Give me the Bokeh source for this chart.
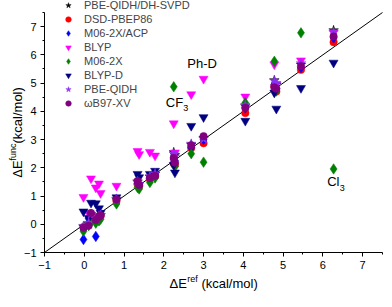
import math
from bokeh.plotting import figure
from bokeh.models import Range1d, SingleIntervalTicker, Legend, LegendItem, Label
from bokeh.embed import file_html
from bokeh.resources import INLINE

# axis limits (kcal/mol)
axis_min, axis_max = -1, 7.5

# reference energies (kcal/mol) of the systems
e_ref = [-0.02, 0.11, 0.17, 0.29, 0.37, 0.41, 0.81, 1.34, 1.38, 1.65, 1.78,
         2.25, 2.28, 2.69, 3.00, 4.05, 4.78, 4.83, 5.45, 6.27]

# functional energies (kcal/mol)
pbe_qidh_dhsvpd = [-0.08, 0.02, 0.35, 0.18, 0.30, 0.32, 0.88, 1.50, 1.42, 1.68, 1.78,
                   2.55, 2.45, 2.82, 3.05, 4.18, 5.10, 4.95, 5.65, 6.87]
dsd_pbep86 = [-0.10, 0.00, 0.32, 0.15, 0.26, 0.28, 0.82, 1.42, 1.35, 1.60, 1.70,
              2.15, 2.10, 2.70, 2.87, 3.94, 4.90, 4.70, 5.47, 6.45]
m062x_acp = [-0.54, 0.20, 0.15, -0.43, 0.25, 0.30, 0.88, 1.45, 1.38, 1.62, 1.75,
             2.30, 2.25, 2.72, 3.00, 4.12, 4.95, 4.80, 5.55, 6.60]
blyp = [0.96, 0.40, 1.62, 1.30, 1.44, 1.10, 1.36, 2.59, 2.48, 2.56, 2.43,
        3.57, 2.54, 4.60, 5.15, 4.52, 5.66, 4.97, 5.80, 6.80]
m062x = [-0.25, -0.05, 0.08, 0.04, 0.12, 0.18, 0.72, 1.30, 1.25, 1.48, 1.64,
         4.87, 2.05, 2.50, 2.20, 4.30, 5.77, 4.72, 6.78, 1.96]
blyp_d = [0.45, 0.22, 0.76, 0.74, 0.56, 0.40, 0.95, 1.78, 1.66, 1.78, 1.89,
          2.10, 1.83, 3.48, 3.79, 3.66, 4.66, 4.09, 4.82, 5.72]
pbe_qidh = [-0.06, 0.05, 0.36, 0.20, 0.31, 0.33, 0.90, 1.52, 1.43, 1.70, 1.80,
            2.50, 2.40, 2.85, 3.02, 4.22, 5.08, 4.98, 5.70, 6.80]
wb97xv = [-0.12, -0.05, 0.40, 0.15, 0.27, 0.32, 0.88, 1.53, 1.39, 1.64, 1.72,
          2.35, 2.18, 2.80, 3.12, 4.13, 4.85, 4.80, 5.60, 6.65]

labels = ["PBE-QIDH/DH-SVPD", "DSD-PBEP86", "M06-2X/ACP", "BLYP", "M06-2X",
          "BLYP-D", "PBE-QIDH", "\u03c9B97-XV"]
series_values = [pbe_qidh_dhsvpd, dsd_pbep86, m062x_acp, blyp, m062x, blyp_d,
                 pbe_qidh, wb97xv]
colors = ["#000000", "#FF0000", "#0000FF", "#FF00FF", "#008000", "#000080",
          "#8833EE", "#800080"]
markers = ["star", "circle", "diamond", "inverted_triangle", "diamond",
           "inverted_triangle", "star", "circle"]
sizes = [10, 7.5, 10.5, 9, 10.5, 9, 10, 7.5]

FONT = "Liberation Sans"
W, H = 384, 291
# pixel placement of the axis box inside the canvas (layout only)
PX_L, PX_R, PX_T, PX_B = 44, 382, 12, 252
sx = (PX_R - PX_L) / (axis_max - axis_min)
sy = (PX_B - PX_T) / (axis_max - axis_min)
x_range = Range1d(axis_min - PX_L / sx, axis_min + (W - PX_L) / sx)
y_range = Range1d(axis_min - (H - PX_B) / sy, axis_min + PX_B / sy)

p = figure(width=W, height=H, output_backend="svg", toolbar_location=None,
           x_range=x_range, y_range=y_range,
           min_border_left=0, min_border_right=0, min_border_top=0,
           min_border_bottom=0)
p.outline_line_color = None
p.grid.visible = False
p.background_fill_color = "white"

for ax in (p.xaxis[0], p.yaxis[0]):
    ax.fixed_location = axis_min
    ax.bounds = (axis_min, axis_max)
    ax.ticker = SingleIntervalTicker(interval=1, num_minor_ticks=2)
    ax.axis_line_color = "black"
    ax.axis_line_width = 1
    ax.major_tick_in = 0
    ax.major_tick_out = 4
    ax.minor_tick_in = 0
    ax.minor_tick_out = 2
    ax.major_tick_line_color = "black"
    ax.minor_tick_line_color = "black"
    ax.major_label_text_font = FONT
    ax.major_label_text_font_size = "11px"
    ax.major_label_text_color = "black"
    ax.major_label_standoff = 4
    ax.axis_label = None

# identity line
p.line([axis_min, axis_max], [axis_min, axis_max], line_color="black", line_width=1)

items = []
for lab_, vals, col, mk, sz in zip(labels, series_values, colors, markers, sizes):
    r = p.scatter(e_ref, vals, marker=mk, size=sz,
                  fill_color=col, line_color=col, line_width=0.5)
    items.append(LegendItem(label=lab_, renderers=[r]))

legend = Legend(items=items, location=(60, H - 110), padding=0, spacing=0, margin=0,
                glyph_width=16, glyph_height=14, label_height=14, label_standoff=8,
                border_line_color=None, background_fill_alpha=0,
                label_text_font=FONT, label_text_font_size="11px")
p.add_layout(legend)


def lab(x, y, text, size="13px", units="data", angle=0, xo=0, yo=0,
        baseline="alphabetic"):
    p.add_layout(Label(x=x, y=y, x_units=units, y_units=units, text=text,
                       angle=angle, x_offset=xo, y_offset=yo,
                       text_font=FONT, text_font_size=size, text_color="black",
                       text_align="left", text_baseline=baseline))


def slab(px, py, text, size="13px", angle=0):
    # px, py measured from the canvas top-left
    lab(px, H - py, text, size=size, units="screen", angle=angle)


# annotations
lab(2.59, 5.68, "Ph-D", baseline="middle")
lab(2.05, 4.32, "CF", baseline="middle")
lab(2.05, 4.32, "3", size="9px", xo=17.5, yo=-6, baseline="middle")
lab(6.11, 1.50, "Cl", baseline="middle")
lab(6.11, 1.50, "3", size="9px", xo=12.5, yo=-6, baseline="middle")

# x axis label
slab(169, 283, "\u0394E")
slab(186.8, 278, "ref", size="9px")
slab(200.9, 283, "(kcal/mol)")

# y axis label (rotated)
slab(17, 177.3, "\u0394E", angle=math.pi / 2)
slab(12, 160, "func", size="9px", angle=math.pi / 2)
slab(17, 143, "(kcal/mol)", angle=math.pi / 2)

open("out.html", "w").write(file_html(p, INLINE))
